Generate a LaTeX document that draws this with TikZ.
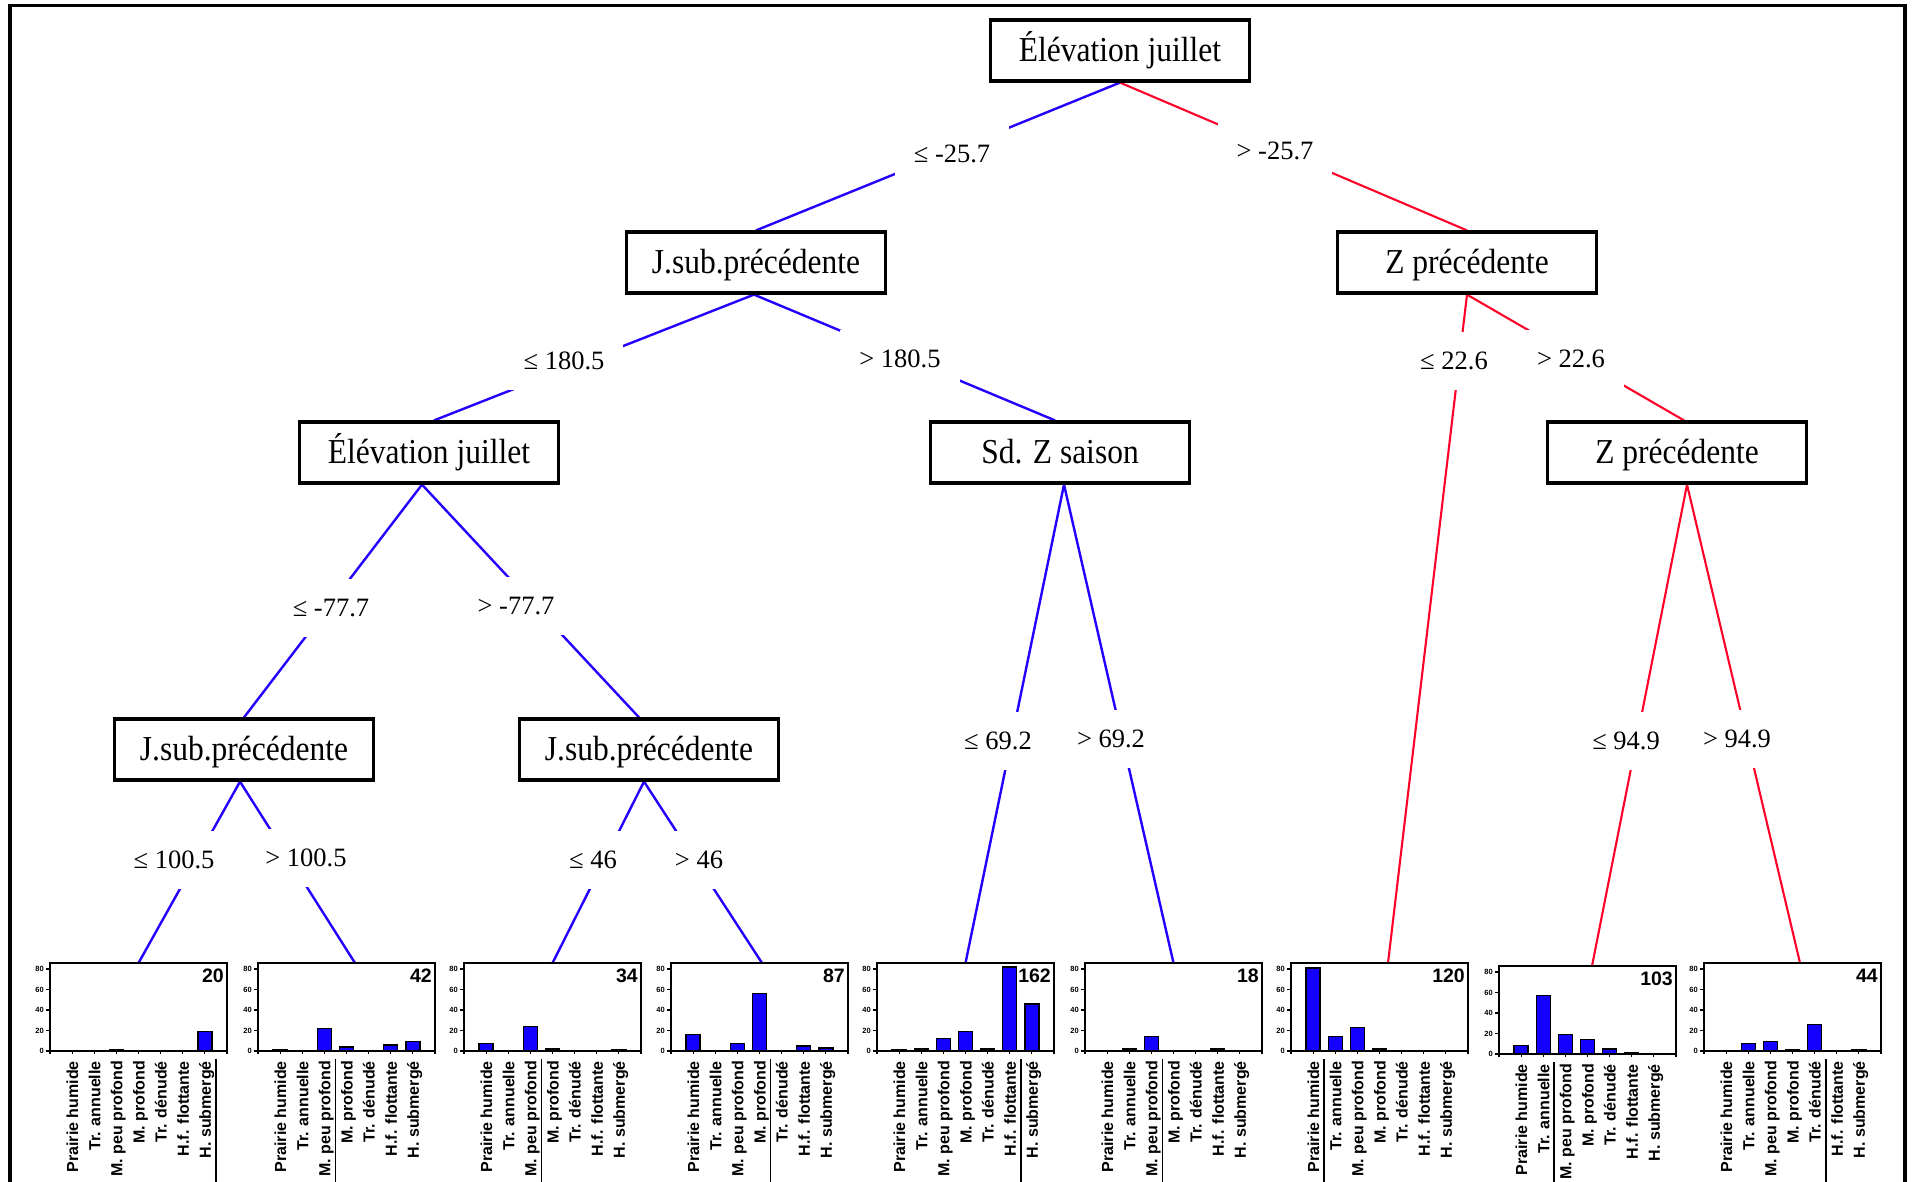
\documentclass[tikz,border=0pt]{standalone}
\usepackage{fontspec}
\setmainfont{Liberation Serif}
\newfontfamily\treefont[FakeStretch=0.9]{Liberation Serif}
\newfontfamily\chartfont{Liberation Sans}
\usetikzlibrary{calc,backgrounds}
\definecolor{treeblue}{RGB}{35,0,255}
\definecolor{treered}{RGB}{255,0,40}
\definecolor{barblue}{RGB}{20,0,255}
\tikzset{
  splitbox/.style={draw=black, line width=3.2pt, fill=white, minimum width=259pt, minimum height=61pt, inner sep=0pt, text height=28pt, text depth=7pt, font=\treefont\fontsize{35}{40}\selectfont},
  cond/.style={fill=white, inner xsep=19pt, inner ysep=0pt, minimum height=58pt, font=\fontsize{26.5}{30}\selectfont},
  bl/.style={draw=treeblue, line width=2.4pt},
  rd/.style={draw=treered, line width=2.1pt},
  chartframe/.style={draw=black, line width=1.6pt, minimum width=177pt, minimum height=88pt, inner sep=0pt, outer sep=0pt, anchor=north west},
  axis/.style={draw=black, line width=1.1pt},
  bar/.style={draw=black, line width=1.3pt, fill=barblue},
  uline/.style={draw=black, line width=1.7pt},
  catlabel/.style={rotate=90, anchor=base east, inner sep=0pt, font=\chartfont\bfseries\fontsize{16}{18}\selectfont},
  ticklabel/.style={anchor=east, inner sep=0pt, font=\chartfont\bfseries\fontsize{7.5}{8}\selectfont},
  countlabel/.style={anchor=north east, inner sep=0pt, font=\chartfont\bfseries\fontsize{19.5}{22}\selectfont},
}
\newcommand\leafchart[6]{%
  \node[chartframe] (#1) at (#2,#3) {};
  \pgfmathsetmacro\lby{#3+88}
  \foreach \v in {0,20,40,60,80}{
    \pgfmathsetmacro\ty{\lby-\v*1.025}
    \draw[axis] (#2-4,\ty) -- (#2,\ty);
    \node[ticklabel] (#1-t\v) at (#2-6,\ty) {\v};
  }
  \foreach \k in {0,...,8}{
    \pgfmathsetmacro\tx{#2+\k*22.125}
    \draw[axis] (\tx,\lby) -- (\tx,\lby+3);
  }
  \foreach \val [count=\i] in {#5}{
    \pgfmathsetmacro\cx{#2+\i*22.125}
    \ifdim\val pt>0pt
      \pgfmathsetmacro\bt{\lby-\val*1.025}
      \draw[bar] (\cx-7,\lby) rectangle (\cx+7,\bt);
    \fi
  }
  \foreach \lab [count=\i] in {Prairie humide,Tr. annuelle,M. peu profond,M. profond,Tr. dénudé,H.f. flottante,H. submergé}{
    \pgfmathsetmacro\cx{#2+\i*22.125}
    \node[catlabel] (#1-c\i) at (\cx+6,#3+98) {\lab};
  }
  \pgfmathsetmacro\ux{#2+#6*22.125+11}
  \draw[uline] (\ux,#3+96) -- (\ux,1200);
  \node[countlabel] (#1-n) at (#2+174,#3+6) {#4};
}
\begin{document}
\begin{tikzpicture}[x=1pt,y=-1pt]
\useasboundingbox (0,0) rectangle (1913,1181);
\draw[line width=3.5pt] (10,1200) -- (10,5.5) -- (1905,5.5) -- (1905,1200);

% leaves
\leafchart{L1}{50}{963}{20}{0,0,1,0,0,0,19}{7}
\leafchart{L2}{258}{963}{42}{1,0,22,4,0,6,9}{3}
\leafchart{L3}{464}{963}{34}{7,0,24,2,0,0,1}{3}
\leafchart{L4}{671}{963}{87}{16,0,7,56,0,5,3}{4}
\leafchart{L5}{877}{963}{162}{1,2,12,19,2,82,46}{6}
\leafchart{L6}{1085}{963}{18}{0,2,14,0,0,2,0}{3}
\leafchart{L7}{1291}{963}{120}{81,14,23,2,0,0,0}{1}
\leafchart{L8}{1499}{966}{103}{8,57,19,14,5,1,0}{2}
\leafchart{L9}{1704}{963}{44}{0,7,9,1,26,0,1}{5}

% split nodes
\node[splitbox] (root) at (1120,50.5) {Élévation juillet};
\node[splitbox] (js1) at (756,262.5) {J.sub.précédente};
\node[splitbox] (zp1) at (1467,262.5) {Z précédente};
\node[splitbox] (el2) at (429,452.5) {Élévation juillet};
\node[splitbox] (sd) at (1060,452.5) {Sd. Z saison};
\node[splitbox] (zp2) at (1677,452.5) {Z précédente};
\node[splitbox] (js2) at (244,749.5) {J.sub.précédente};
\node[splitbox] (js3) at (649,749.5) {J.sub.précédente};

\begin{pgfonlayer}{background}
\fill[white] (0,0) rectangle (1913,1181);
% connectors
\draw[bl] (root.south) -- (js1.north);
\draw[rd] (root.south) -- (zp1.north);
\draw[bl] ([xshift=-2pt]js1.south) -- ([xshift=5pt]el2.north);
\draw[bl] ([xshift=-2pt]js1.south) -- ([xshift=-5pt]sd.north);
\draw[rd] (zp1.south) -- ([xshift=8.5pt]L7.north);
\draw[rd] (zp1.south) -- ([xshift=7pt]zp2.north);
\draw[bl] ([xshift=-7pt]el2.south) -- (js2.north);
\draw[bl] ([xshift=-7pt]el2.south) -- ([xshift=-10pt]js3.north);
\draw[bl] ([xshift=4pt]sd.south) -- (L5.north);
\draw[bl] ([xshift=4pt]sd.south) -- (L6.north);
\draw[rd] ([xshift=10pt]zp2.south) -- ([xshift=4.5pt]L8.north);
\draw[rd] ([xshift=10pt]zp2.south) -- ([xshift=7.5pt]L9.north);
\draw[bl] ([xshift=-4pt]js2.south) -- (L1.north);
\draw[bl] ([xshift=-4pt]js2.south) -- ([xshift=8.5pt]L2.north);
\draw[bl] ([xshift=-5pt]js3.south) -- (L3.north);
\draw[bl] ([xshift=-5pt]js3.south) -- ([xshift=2.5pt]L4.north);
% condition labels
\node[cond] (c1) at (952,154) {≤ -25.7};
\node[cond] (c2) at (1275,151) {> -25.7};
\node[cond] (c3) at (564,361) {≤ 180.5};
\node[cond] (c4) at (900,359) {> 180.5};
\node[cond] (c5) at (1454,361) {≤ 22.6};
\node[cond] (c6) at (1571,359) {> 22.6};
\node[cond] (c7) at (331,608) {≤ -77.7};
\node[cond] (c8) at (516,606) {> -77.7};
\node[cond] (c9) at (998,741) {≤ 69.2};
\node[cond] (c10) at (1111,739) {> 69.2};
\node[cond] (c11) at (1626,741) {≤ 94.9};
\node[cond] (c12) at (1737,739) {> 94.9};
\node[cond] (c13) at (174,860) {≤ 100.5};
\node[cond] (c14) at (306,858) {> 100.5};
\node[cond] (c15) at (593,860) {≤ 46};
\node[cond] (c16) at (699,860) {> 46};
\end{pgfonlayer}
\end{tikzpicture}
\end{document}
